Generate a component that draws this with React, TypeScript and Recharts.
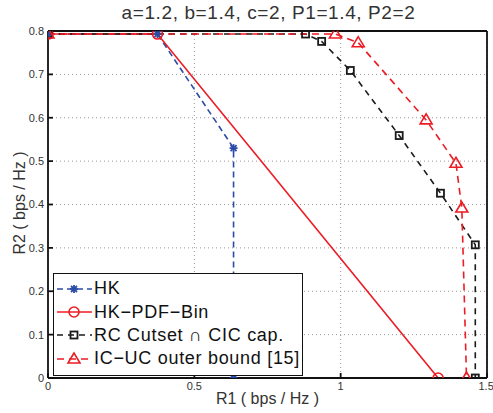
import React from 'react';
import {
  LineChart,
  Line,
  XAxis,
  YAxis,
  CartesianGrid,
  ReferenceLine,
  Legend
} from 'recharts';

const xTicks = [0, 0.5, 1, 1.5];
const yTicks = [0, 0.1, 0.2, 0.3, 0.4, 0.5, 0.6, 0.7, 0.8];

const hkR1 = [0, 0.374, 0.634, 0.634];
const hkR2 = [0.793, 0.793, 0.53, 0];

const pdfR1 = [0, 0.374, 1.333];
const pdfR2 = [0.793, 0.793, 0];

const rcR1 = [0, 0.88, 0.935, 1.033, 1.2, 1.341, 1.46, 1.46];
const rcR2 = [0.793, 0.793, 0.776, 0.709, 0.559, 0.426, 0.307, 0];

const icR1 = [0, 0.982, 1.06, 1.292, 1.394, 1.414, 1.43];
const icR2 = [0.793, 0.793, 0.773, 0.595, 0.495, 0.392, 0];

const toRows = (xs: number[], ys: number[]) => xs.map((x, i) => ({ r1: x, r2: ys[i] }));

const BLUE = '#2b4ca6';
const RED = '#ec1c24';
const BLACK = '#1a1a1a';
const FONT = '"Liberation Sans", Arial, Helvetica, sans-serif';

const Star = ({ cx, cy, color }: any) => (
  <g stroke={color} strokeWidth={1.8}>
    <line x1={cx - 4} y1={cy} x2={cx + 4} y2={cy} />
    <line x1={cx} y1={cy - 4} x2={cx} y2={cy + 4} />
    <line x1={cx - 3} y1={cy - 3} x2={cx + 3} y2={cy + 3} />
    <line x1={cx - 3} y1={cy + 3} x2={cx + 3} y2={cy - 3} />
  </g>
);

const Circle = ({ cx, cy, color }: any) => (
  <circle cx={cx} cy={cy} r={5} fill="none" stroke={color} strokeWidth={1.6} />
);

const Square = ({ cx, cy, color }: any) => (
  <rect x={cx - 3.5} y={cy - 3.5} width={7} height={7} fill="none" stroke={color} strokeWidth={1.8} />
);

const Triangle = ({ cx, cy, color }: any) => (
  <polygon
    points={`${cx},${cy - 6} ${cx - 6},${cy + 4} ${cx + 6},${cy + 4}`}
    fill="none"
    stroke={color}
    strokeWidth={1.6}
  />
);

const series = [
  { name: 'HK', rows: toRows(hkR1, hkR2), color: BLUE, dash: '6 4', Marker: Star },
  { name: 'HK\u2212PDF\u2212Bin', rows: toRows(pdfR1, pdfR2), color: RED, dash: undefined, Marker: Circle },
  { name: 'RC Cutset \u2229 CIC cap.', rows: toRows(rcR1, rcR2), color: BLACK, dash: '6 5', Marker: Square },
  { name: 'IC\u2212UC outer bound [15]', rows: toRows(icR1, icR2), color: RED, dash: '7 5', Marker: Triangle }
];

const renderDot = (Marker: any, color: string) => (props: any) => (
  <Marker key={`dot-${props.index}`} cx={props.cx} cy={props.cy} color={color} />
);

const LegendBox = () => (
  <div
    style={{
      width: 250,
      height: 103,
      border: '1.5px solid #111',
      background: '#fff',
      boxSizing: 'border-box',
      paddingTop: 3,
      fontFamily: FONT
    }}
  >
    {series.map((s) => (
      <div key={s.name} style={{ display: 'flex', alignItems: 'center', height: 23.4 }}>
        <svg width={38} height={20} style={{ marginLeft: 1, flexShrink: 0 }}>
          <line x1={2} y1={10} x2={37} y2={10} stroke={s.color} strokeWidth={1.6} strokeDasharray={s.dash} />
          <s.Marker cx={19} cy={10} color={s.color} />
        </svg>
        <span style={{ fontSize: 18, letterSpacing: 0.7, color: '#111', whiteSpace: 'nowrap', marginLeft: 1 }}>
          {s.name}
        </span>
      </div>
    ))}
  </div>
);

export default function App() {
  return (
    <div style={{ position: 'absolute', left: 0, top: 0, width: 493, height: 413, background: '#fff', fontFamily: FONT }}>
      <div
        style={{
          position: 'absolute',
          left: 0,
          width: 537,
          top: 2,
          textAlign: 'center',
          fontSize: 19,
          letterSpacing: 0.6,
          color: '#333'
        }}
      >
        a=1.2, b=1.4, c=2, P1=1.4, P2=2
      </div>
      <div style={{ position: 'absolute', left: 0, width: 535, top: 390, textAlign: 'center', fontSize: 16, color: '#333' }}>
        R1 ( bps / Hz )
      </div>
      <div
        style={{
          position: 'absolute',
          left: 20,
          top: 203,
          transform: 'translate(-50%, -50%) rotate(-90deg)',
          fontSize: 16,
          color: '#333',
          whiteSpace: 'nowrap'
        }}
      >
        R2 ( bps / Hz )
      </div>
      <LineChart width={493} height={413} margin={{ top: 31, right: 6, left: 0, bottom: 0 }}>
        <CartesianGrid stroke="#999" strokeDasharray="1 3" />
        <XAxis
          type="number"
          dataKey="r1"
          domain={[0, 1.5]}
          ticks={xTicks}
          height={35}
          stroke="#111"
          strokeWidth={1.8}
          tickSize={-5}
          tickMargin={9}
          tick={{ fontSize: 11, fill: '#333', fontFamily: FONT }}
          allowDataOverflow
        />
        <YAxis
          type="number"
          dataKey="r2"
          domain={[0, 0.8]}
          ticks={yTicks}
          width={48}
          stroke="#111"
          strokeWidth={1.8}
          tickSize={-5}
          tickMargin={9}
          tick={{ fontSize: 11, fill: '#333', fontFamily: FONT }}
          allowDataOverflow
        />
        <ReferenceLine y={0.8} stroke="#111" strokeWidth={1.8} />
        <ReferenceLine x={1.5} stroke="#111" strokeWidth={1.8} />
        {series.map((s) => (
          <Line
            key={s.name}
            data={s.rows}
            dataKey="r2"
            name={s.name}
            type="linear"
            stroke={s.color}
            strokeWidth={1.6}
            strokeDasharray={s.dash}
            dot={renderDot(s.Marker, s.color)}
            activeDot={false}
            isAnimationActive={false}
          />
        ))}
        <Legend
          layout="horizontal"
          verticalAlign="middle"
          align="center"
          content={() => <LegendBox />}
          wrapperStyle={{ position: 'absolute', left: 53, top: 273, width: 250, height: 103 }}
        />
      </LineChart>
    </div>
  );
}
